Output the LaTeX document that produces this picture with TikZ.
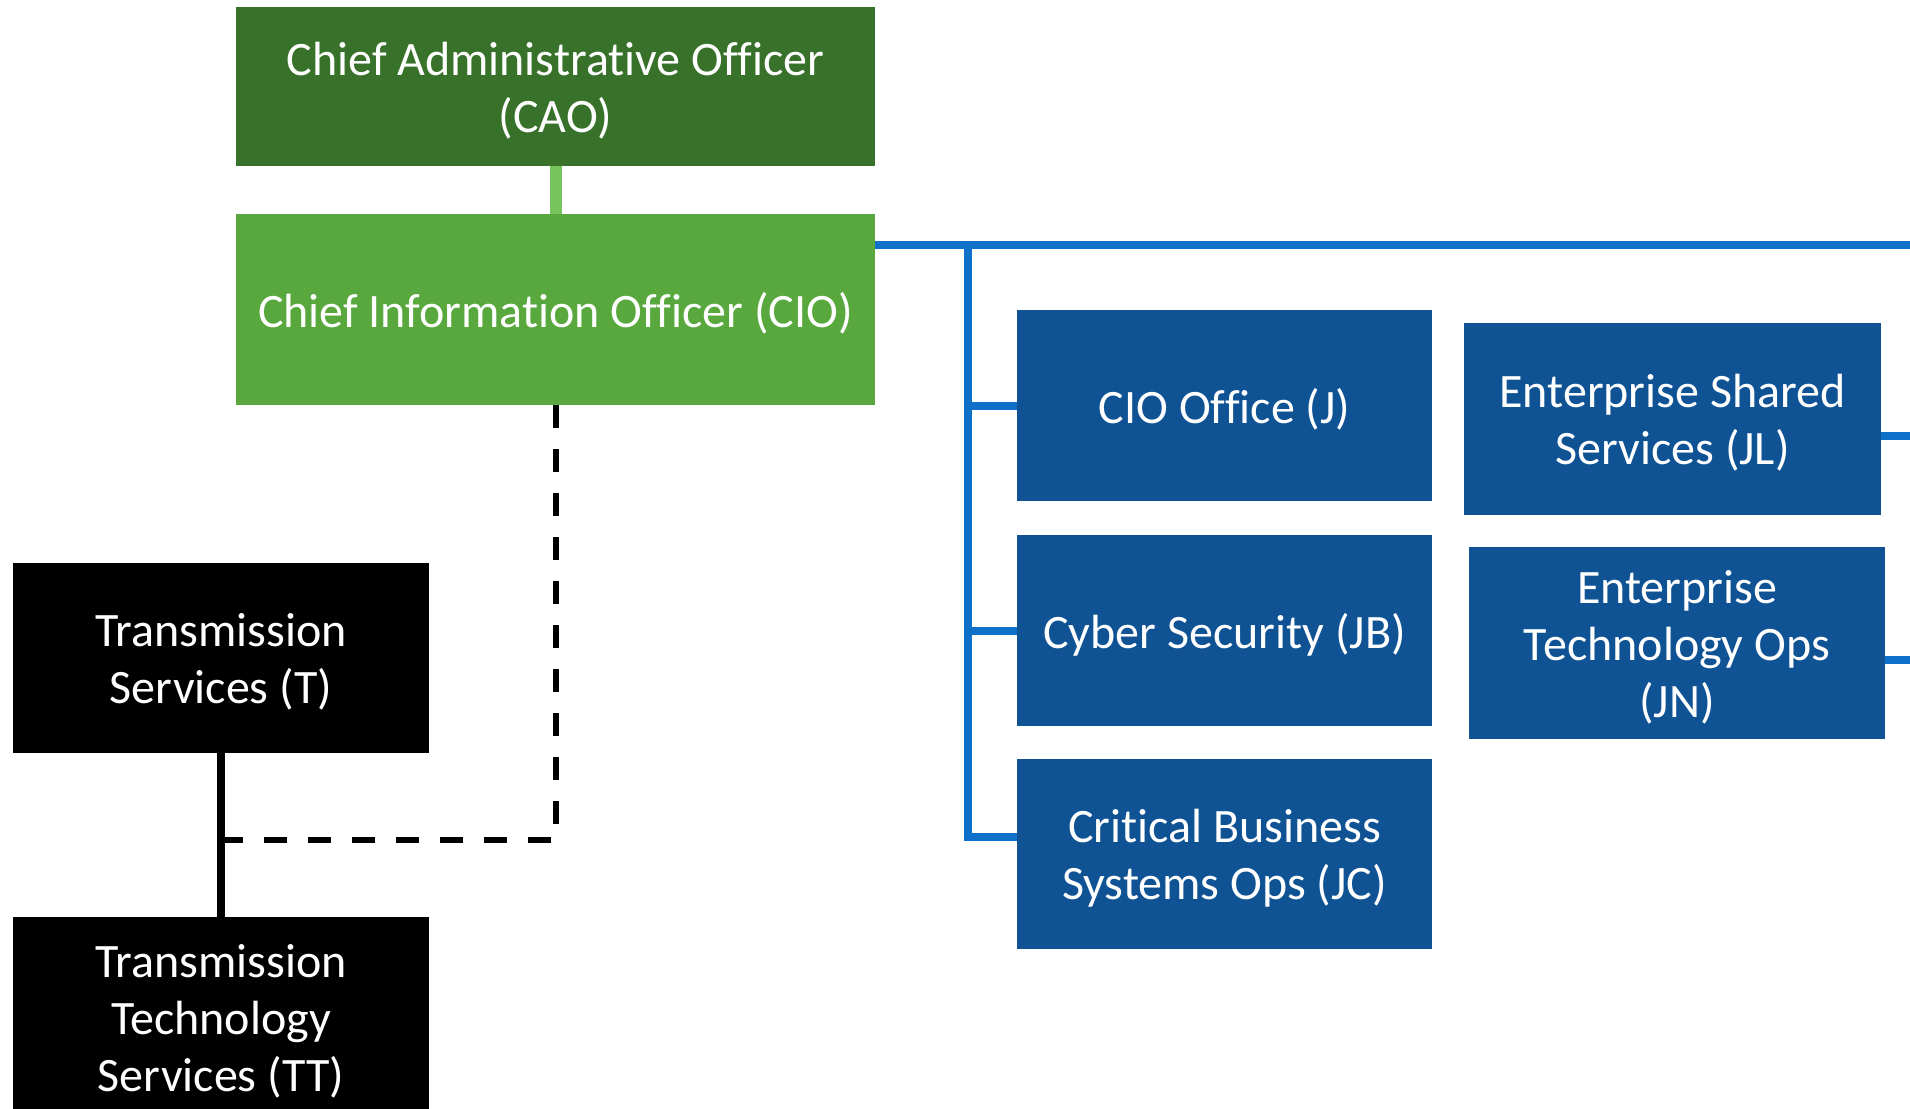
\documentclass[tikz,border=0pt]{standalone}
\usepackage{fontspec}
\setmainfont{Carlito}[Ligatures=NoCommon]
\usetikzlibrary{calc}
\definecolor{caogreen}{HTML}{38712A}
\definecolor{ciogreen}{HTML}{58A83E}
\definecolor{linkgreen}{HTML}{77C45C}
\definecolor{boxblue}{HTML}{0F5395}
\definecolor{lineblue}{HTML}{0E70C8}
\tikzset{
  orgtext/.style={inner sep=0pt, align=center, text=white,
    font=\fontsize{48}{57}\selectfont, yshift=-4pt},
  orgbox/.style={rectangle, inner sep=0pt},
  greenA/.style={orgbox, fill=caogreen},
  greenB/.style={orgbox, fill=ciogreen},
  bluebox/.style={orgbox, fill=boxblue},
  blackbox/.style={orgbox, fill=black},
  blueline/.style={draw=lineblue, line width=8pt},
}
\begin{document}
\begin{tikzpicture}[x=1pt,y=-1pt]
\useasboundingbox (0,0) rectangle (1910,1108);
% nodes
\node[greenA, minimum width=639pt, minimum height=159pt,
  label={[orgtext]center:Chief Administrative Officer\\(CAO)}] (cao) at (555.5,86.5) {};
\node[greenB, minimum width=639pt, minimum height=191pt,
  label={[orgtext]center:Chief Information Officer (CIO)}] (cio) at (555.5,309.5) {};
\node[bluebox, minimum width=415pt, minimum height=191pt,
  label={[orgtext]center:CIO Office (J)}] (j) at (1224.5,405.5) {};
\node[bluebox, minimum width=415pt, minimum height=191pt,
  label={[orgtext]center:Cyber Security (JB)}] (jb) at (1224.5,630.5) {};
\node[bluebox, minimum width=415pt, minimum height=190pt,
  label={[orgtext]center:Critical Business\\Systems Ops (JC)}] (jc) at (1224.5,854) {};
\node[bluebox, minimum width=417pt, minimum height=192pt,
  label={[orgtext]center:Enterprise Shared\\Services (JL)}] (jl) at (1672.5,419) {};
\node[bluebox, minimum width=416pt, minimum height=192pt,
  label={[orgtext]center:Enterprise\\Technology Ops\\(JN)}] (jn) at (1677,643) {};
\node[blackbox, minimum width=416pt, minimum height=190pt,
  label={[orgtext]center:Transmission\\Services (T)}] (t) at (221,658) {};
\node[blackbox, minimum width=416pt, minimum height=200pt,
  label={[orgtext]center:Transmission\\Technology\\Services (TT)}] (tt) at (221,1017) {};
% coordinates
\coordinate (trunktop) at (968,245);
\coordinate (trunkbot) at (968,837);
\coordinate (edgetop) at (1910,245);
\coordinate (edgejl) at (1910,436);
\coordinate (edgejn) at (1910,660);
\coordinate (dashcorner) at (556,840);
\coordinate (dashend) at (221,840);
% connectors
\draw[linkgreen, line width=12pt] (cao.south) -- (cio.north);
\draw[blueline] (cio.east |- trunktop) -- (edgetop);
\draw[blueline, line join=miter] (trunktop) -- (trunkbot) -- (jc.west |- trunkbot);
\draw[blueline] (trunktop |- j.west) -- (j.west);
\draw[blueline] (trunktop |- jb.west) -- (jb.west);
\draw[blueline] (jl.east |- edgejl) -- (edgejl);
\draw[blueline] (jn.east |- edgejn) -- (edgejn);
\draw[black, line width=7.5pt] (t.south) -- (tt.north);
\draw[black, line width=6pt, dash pattern=on 23pt off 21pt] (cio.south -| dashcorner) -- (dashcorner) -- (dashend);
\end{tikzpicture}
\end{document}
